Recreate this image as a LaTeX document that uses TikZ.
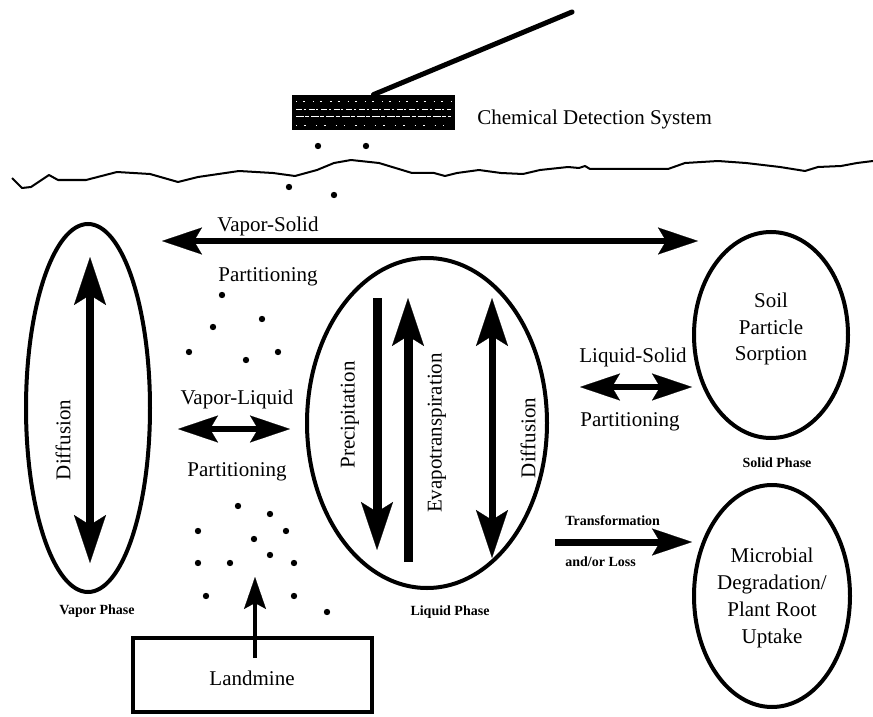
\documentclass[tikz,border=0pt]{standalone}
\usepackage{fontspec}
\setmainfont{Liberation Serif}
\usetikzlibrary{shapes.geometric}
\usetikzlibrary{arrows.meta}
\usetikzlibrary{positioning}

\tikzset{
    hhead/.tip={Stealth[length=20pt, width=13.5pt, inset=4pt, line width=0.1pt]},
    vhead/.tip={Stealth[length=24pt, width=16pt, inset=5pt, line width=0.1pt]},
    shead/.tip={Stealth[length=16pt, width=11pt, inset=3pt, line width=0.1pt]},
    phase/.style={draw, ellipse, line width=2pt, inner sep=0pt},
    lbl/.style={font=\fontsize{10.5}{13.4}\selectfont, align=center, inner sep=0pt},
    small/.style={font=\fontsize{7}{8}\selectfont\bfseries, inner sep=0pt},
    harrow/.style={line width=3pt, hhead-hhead},
    varrow/.style={line width=4pt},
    dot/.style={fill=black}
}

\begin{document}
\begin{tikzpicture}[x=0.5pt, y=-0.5pt]
        \useasboundingbox (0,0) rectangle (873,717);

        % Detection system (top)
        \node[fill=black, minimum width=81.5pt, minimum height=17.5pt, inner sep=0pt] (detector) at (373.5,112.5) {};
        \foreach \y/\pat in {101/{on 0.6pt off 3pt on 1pt off 4pt},
                             109/{on 3pt off 0.8pt on 1pt off 1.5pt},
                             116/{on 4pt off 0.6pt on 2pt off 1pt},
                             125/{on 0.6pt off 3.5pt on 0.8pt off 5pt}} {
            \draw[white, line width=0.4pt, dash pattern/.expanded=\pat] (296,\y) -- (451,\y);
        }
        \coordinate (probe) at (572,12);
        \draw[line width=2.5pt, line cap=round] (detector.north) -- (probe);
        \node[lbl, anchor=west] (cds) at (477,119) {Chemical Detection System};

        % Ground surface
        \draw[line width=1pt, line join=round] plot coordinates {
            (12,178) (22,188) (31,187) (49,175) (58,180) (86,180) (117,172)
            (150,174) (178,182) (198,177) (239,171) (273,173) (295,176)
            (317,170) (334,163) (351,160) (379,163) (412,173) (434,173)
            (445,176) (457,173) (479,170) (501,173) (523,174) (540,170)
            (568,167) (579,168) (585,166) (590,169) (668,169) (685,163)
            (718,161) (746,163) (780,167) (805,171) (818,167) (841,166)
            (857,163) (873,161)};

        % Vapor molecules
        \foreach \x/\y in {318/146, 366/146, 289/187, 334/195,
                           222/295, 262/319, 213/327, 189/352, 246/360, 278/352,
                           238/506, 270/514, 198/531, 286/531, 254/539, 270/555,
                           198/563, 230/563, 294/563, 206/596, 294/596, 327/612} {
            \fill[dot] (\x,\y) circle (1.6pt);
        }

        % Vapor-solid partitioning
        \coordinate (vs-l) at (162,241);
        \coordinate (vs-r) at (698,241);
        \draw[harrow] (vs-l) -- (vs-r);
        \node[lbl] (vs-top) at (268,226) {Vapor-Solid};
        \node[lbl] (vs-bot) at (268,277) {Partitioning};

        % Vapor phase (left)
        \node[phase, minimum width=62pt, minimum height=184pt] (vapor) at (88,408) {};
        \coordinate (vd-t) at (90,257);
        \coordinate (vd-b) at (90,563);
        \draw[varrow, vhead-vhead] (vd-t) -- (vd-b);
        \node[lbl, rotate=90] (vd-txt) at (63,440) {Diffusion};
        \node[small] (vapor-lbl) at (97,611) {Vapor Phase};

        % Vapor-liquid partitioning
        \coordinate (vl-l) at (178,429);
        \coordinate (vl-r) at (290,429);
        \draw[harrow, line width=2.8pt] (vl-l) -- (vl-r);
        \node[lbl] (vl-top) at (237,399) {Vapor-Liquid};
        \node[lbl] (vl-bot) at (237,472) {Partitioning};

        % Liquid phase (middle)
        \node[phase, minimum width=120pt, minimum height=165pt] (liquid) at (427,423) {};
        \coordinate (pr-t) at (377,298);
        \coordinate (pr-b) at (377,550);
        \draw[varrow, line width=4.5pt, -vhead] (pr-t) -- (pr-b);
        \node[lbl, rotate=90] (pr-txt) at (350,415) {Precipitation};
        \coordinate (ev-b) at (408,562);
        \coordinate (ev-t) at (408,298);
        \draw[varrow, line width=4.5pt, -vhead] (ev-b) -- (ev-t);
        \node[lbl, rotate=90] (ev-txt) at (437,433) {Evapotranspiration};
        \coordinate (ld-t) at (492,298);
        \coordinate (ld-b) at (492,558);
        \draw[varrow, line width=3.5pt, vhead-vhead] (ld-t) -- (ld-b);
        \node[lbl, rotate=90] (ld-txt) at (528,438) {Diffusion};
        \node[small] (liquid-lbl) at (450,612) {Liquid Phase};

        % Solid phase (right)
        \node[phase, minimum width=77pt, minimum height=103pt] (soil) at (771,335) {};
        \node[lbl] (soil-txt) at (771,329) {Soil\\Particle\\Sorption};
        \node[small] (solid-lbl) at (777,463) {Solid Phase};

        \coordinate (ls-l) at (580,387);
        \coordinate (ls-r) at (692,387);
        \draw[harrow, line width=2.8pt] (ls-l) -- (ls-r);
        \node[lbl] (ls-top) at (633,357) {Liquid-Solid};
        \node[lbl] (ls-bot) at (630,422) {Partitioning};

        % Loss (bottom right)
        \node[phase, minimum width=78pt, minimum height=111pt] (microbe) at (772,596) {};
        \node[lbl] (microbe-txt) at (772,598) {Microbial\\Degradation/\\Plant Root\\Uptake};
        \coordinate (tr-l) at (555,542);
        \coordinate (tr-r) at (692,542);
        \draw[line width=3.5pt, -hhead] (tr-l) -- (tr-r);
        \node[small, anchor=west] (tr-top) at (565,521) {Transformation};
        \node[small, anchor=west] (tr-bot) at (565,562) {and/or Loss};

        % Landmine (bottom)
        \node[draw, line width=2pt, minimum width=119.5pt, minimum height=37pt, inner sep=0pt] (landmine) at (252.5,675) {};
        \node[lbl] (landmine-txt) at (252,678) {Landmine};
        \coordinate (lm-s) at (255,658);
        \coordinate (lm-t) at (255,577);
        \draw[line width=2pt, -shead] (lm-s) -- (lm-t);

    \end{tikzpicture}
\end{document}
